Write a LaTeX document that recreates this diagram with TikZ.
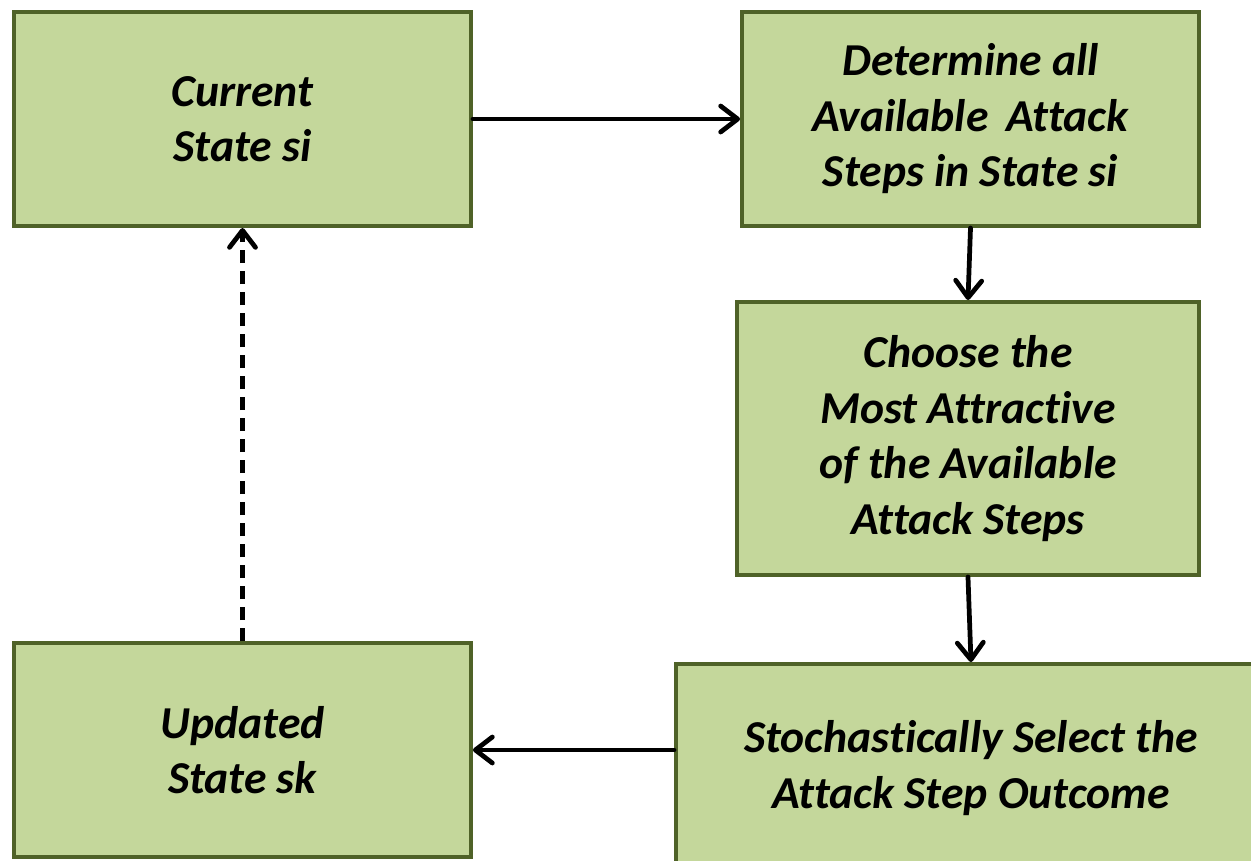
\documentclass[tikz,border=0pt]{standalone}
\usepackage{fontspec}
\setmainfont{Carlito}[Ligatures=NoCommon]
\usetikzlibrary{arrows.meta}

\definecolor{boxfill}{HTML}{C4D79B}
\definecolor{boxline}{HTML}{4F6228}

\begin{document}
\begin{tikzpicture}[x=0.02cm, y=-0.02cm]
\tikzset{ >={Straight Barb[length=0.34cm, width=0.52cm, round]},
  stepbox/.style={draw=boxline, fill=boxfill, line width=2.3pt, align=center,
    inner sep=0pt, font=\fontsize{26}{31.6}\selectfont\bfseries\itshape},
  link/.style={->, line width=2.7pt, line cap=round},
}

\useasboundingbox (0,0) rectangle (1251,860);
\clip (0,0) rectangle (1251,860);

\node [stepbox, minimum width=9.14cm, minimum height=4.28cm] (cur) at (242.5,119) {Current\\State si};
\node [stepbox, minimum width=9.14cm, minimum height=4.28cm] (det) at (970.5,119) {Determine all\\Available\, Attack\\Steps in State si};
\node [stepbox, minimum width=9.24cm, minimum height=5.46cm] (cho) at (968,438.5) {Choose the\\Most Attractive\\of the Available\\Attack Steps};
\node [stepbox, minimum width=11.8cm, minimum height=4.16cm] (sto) at (971,768) {Stochastically Select the\\Attack Step Outcome};
\node [stepbox, minimum width=9.14cm, minimum height=4.28cm] (upd) at (242.5,750) {Updated\\State sk};

\draw [link] (cur.east) -- (det.west);
\draw [link] (det.south) -- (cho.north);
\draw [link] (cho.south) -- (sto.north);
\draw [link] (sto.west |- upd.east) -- (upd.east);
\draw [link, line cap=butt, dash pattern=on 0.26cm off 0.16cm] (upd.north) -- (cur.south);

\end{tikzpicture}
\end{document}
